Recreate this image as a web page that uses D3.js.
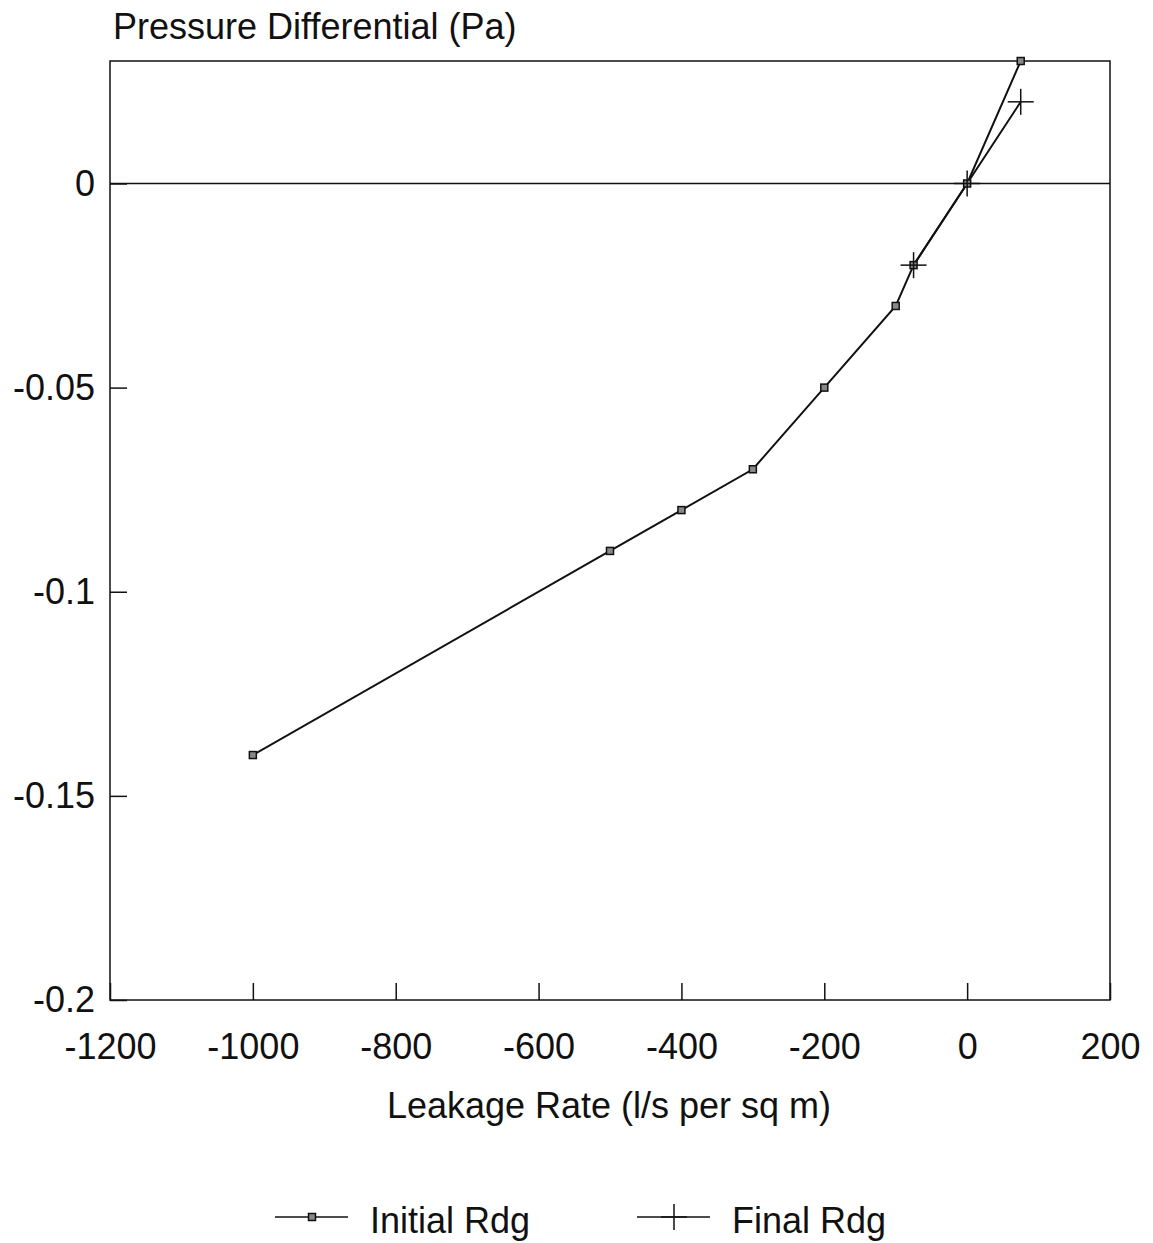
<html>
<head>
<meta charset="utf-8">
<script src="https://d3js.org/d3.v7.min.js"></script>
</head>
<style>
body { margin:0; background:#fff; }
text { font-family: "Liberation Sans", Arial, sans-serif; fill:#111; }
</style>
<body>
<script>

var width = 1153;
var height = 1243;
var margin = {top:61, right:43, bottom:243, left:110};
var w = width - margin.left - margin.right;
var h = height - margin.top - margin.bottom;
var fs = 36;

// data
var initialX = [-1000, -500, -400, -300, -200, -100, -75, 0, 75];
var initialY = [-0.14, -0.09, -0.08, -0.07, -0.05, -0.03, -0.02, 0, 0.03];
var finalX = [-75, 0, 75];
var finalY = [-0.02, 0, 0.02];
var xTicks = [-1200, -1000, -800, -600, -400, -200, 0, 200];
var yTicks = [0, -0.05, -0.1, -0.15, -0.2];
var seriesNames = ["Initial Rdg", "Final Rdg"];

var initial = initialX.map(function(d, i){ return {x:d, y:initialY[i]}; });
var fin = finalX.map(function(d, i){ return {x:d, y:finalY[i]}; });

var x = d3.scaleLinear().domain([-1200, 200]).range([0, w]);
var y = d3.scaleLinear().domain([-0.2, 0.03]).range([h, 0]);

var svg = d3.select("body").append("svg")
    .attr("width", width)
    .attr("height", height)
  .append("g")
    .attr("transform", "translate(" + margin.left + "," + margin.top + ")");

// frame
svg.append("rect")
    .attr("width", w).attr("height", h)
    .attr("fill", "none").attr("stroke", "#111").attr("stroke-width", 1.5);

// zero line
svg.append("line")
    .attr("x1", 0).attr("x2", w)
    .attr("y1", y(0)).attr("y2", y(0))
    .attr("stroke", "#111").attr("stroke-width", 1.5);

// x axis, ticks pointing inward
var xAxis = svg.append("g")
    .attr("transform", "translate(0," + h + ")")
    .call(d3.axisBottom(x).tickValues(xTicks).tickSizeInner(-17).tickSizeOuter(0).tickPadding(33).tickFormat(function(d){ return String(d); }));
xAxis.select(".domain").remove();
xAxis.selectAll("line").attr("stroke", "#111").attr("stroke-width", 1.5);
xAxis.selectAll("text").attr("font-size", fs).style("font-family", "Liberation Sans, Arial, sans-serif").attr("fill", "#111");

var yAxis = svg.append("g")
    .call(d3.axisLeft(y).tickValues(yTicks).tickSizeInner(-17).tickSizeOuter(0).tickPadding(15).tickFormat(function(d){ return String(d); }));
yAxis.select(".domain").remove();
yAxis.selectAll("line").attr("stroke", "#111").attr("stroke-width", 1.5);
yAxis.selectAll("text").attr("font-size", fs).style("font-family", "Liberation Sans, Arial, sans-serif").attr("fill", "#111");

// titles
svg.append("text")
    .attr("x", 3).attr("y", -22)
    .attr("font-size", fs)
    .text("Pressure Differential (Pa)");

svg.append("text")
    .attr("x", 499).attr("y", h + 118)
    .attr("text-anchor", "middle")
    .attr("font-size", fs)
    .text("Leakage Rate (l/s per sq m)");

var line = d3.line().x(function(d){ return x(d.x); }).y(function(d){ return y(d.y); });

svg.append("path").datum(initial)
    .attr("d", line).attr("fill", "none").attr("stroke", "#111").attr("stroke-width", 2);
svg.append("path").datum(fin)
    .attr("d", line).attr("fill", "none").attr("stroke", "#111").attr("stroke-width", 2);

function square(g, cx, cy) {
  g.append("rect")
    .attr("x", cx - 3.5).attr("y", cy - 3.5)
    .attr("width", 7).attr("height", 7)
    .attr("fill", "#888").attr("stroke", "#111").attr("stroke-width", 1.5);
}
function cross(g, cx, cy) {
  g.append("line").attr("x1", cx - 13).attr("x2", cx + 13).attr("y1", cy).attr("y2", cy)
    .attr("stroke", "#111").attr("stroke-width", 1.5);
  g.append("line").attr("x1", cx).attr("x2", cx).attr("y1", cy - 13).attr("y2", cy + 13)
    .attr("stroke", "#111").attr("stroke-width", 1.5);
}

var marks = svg.append("g");
initial.forEach(function(d){ square(marks, x(d.x), y(d.y)); });
fin.forEach(function(d){ cross(marks, x(d.x), y(d.y)); });

// legend
var legend = svg.append("g").attr("transform", "translate(0," + (h + 217) + ")");
var lx = [165, 527];
seriesNames.forEach(function(name, i){
  var g = legend.append("g").attr("transform", "translate(" + lx[i] + ",0)");
  g.append("line").attr("x1", 0).attr("x2", 73).attr("y1", 0).attr("y2", 0)
    .attr("stroke", "#111").attr("stroke-width", 1.5);
  if (i === 0) square(g, 37, 0); else cross(g, 37, 0);
  g.append("text").attr("x", 95).attr("y", 16).attr("font-size", fs).text(name);
});

</script>
</body>
</html>
